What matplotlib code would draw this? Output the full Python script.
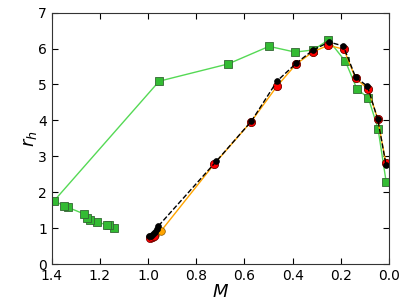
# r_h versus M for the four runs
import matplotlib
matplotlib.use("Agg")
import matplotlib.pyplot as plt

# green squares (two branches joined at M = 1.39)
m_green = [1.141, 1.162, 1.170, 1.213, 1.239, 1.253, 1.264, 1.334, 1.349, 1.390,
           0.954, 0.668, 0.498, 0.390, 0.314, 0.252, 0.181, 0.134, 0.086, 0.046, 0.012]
rh_green = [1.01, 1.08, 1.09, 1.17, 1.23, 1.27, 1.39, 1.58, 1.62, 1.76,
            5.09, 5.57, 6.06, 5.90, 5.96, 6.24, 5.64, 4.88, 4.62, 3.77, 2.28]

# orange run
m_orange = [0.990, 0.980, 0.970, 0.945, 0.726, 0.573, 0.464, 0.385, 0.315, 0.252,
            0.188, 0.139, 0.087, 0.047, 0.013]
rh_orange = [0.74, 0.76, 0.80, 0.93, 2.78, 3.96, 4.96, 5.57, 5.91, 6.09,
             5.98, 5.17, 4.87, 4.03, 2.80]

# red run
m_red = [0.990, 0.982, 0.975, 0.726, 0.573, 0.464, 0.385, 0.315, 0.252,
         0.188, 0.139, 0.087, 0.047, 0.013]
rh_red = [0.72, 0.75, 0.79, 2.78, 3.96, 4.96, 5.57, 5.91, 6.09,
          5.98, 5.17, 4.87, 4.03, 2.80]

# black dashed run
m_black = [0.996, 0.986, 0.978, 0.970, 0.963, 0.957, 0.717, 0.571, 0.464, 0.385,
           0.315, 0.249, 0.190, 0.139, 0.090, 0.047, 0.013]
rh_black = [0.77, 0.79, 0.83, 0.89, 0.97, 1.06, 2.86, 3.98, 5.10, 5.59,
            5.96, 6.18, 6.07, 5.20, 4.95, 4.03, 2.77]

fig = plt.figure(figsize=(4.07, 3.07), dpi=100)
ax = fig.add_axes([0.127, 0.140, 0.829, 0.819])

ax.plot(m_green, rh_green, "-s", color="#55d955", mfc="#33bb33", mec="#336633",
        ms=5.5, lw=1, mew=0.6)
ax.plot(m_orange, rh_orange, "-o", color="orange", mec="#885500", ms=5.5,
        lw=1, mew=0.5)
ax.plot(m_red, rh_red, "o", color="red", mec="#660000", ms=6, mew=0.5)
ax.plot(m_black, rh_black, "--o", color="black", ms=4.2, lw=1, mew=0.5)

ax.set_xlim(1.4, 0.0)
ax.set_ylim(0, 7)
ax.set_xticks([1.4, 1.2, 1.0, 0.8, 0.6, 0.4, 0.2, 0.0])
ax.set_xticklabels(["1.4", "1.2", "1.0", "0.8", "0.6", "0.4", "0.2", "0.0"])
ax.tick_params(direction="in", top=True, right=True, labelsize=10, length=4)
ax.set_xlabel("$M$", fontsize=13, labelpad=0)
ax.set_ylabel("$r_h$", fontsize=13, labelpad=-1)
for s in ax.spines.values():
    s.set_color("#333333")

fig.savefig("out.png", dpi=100)
